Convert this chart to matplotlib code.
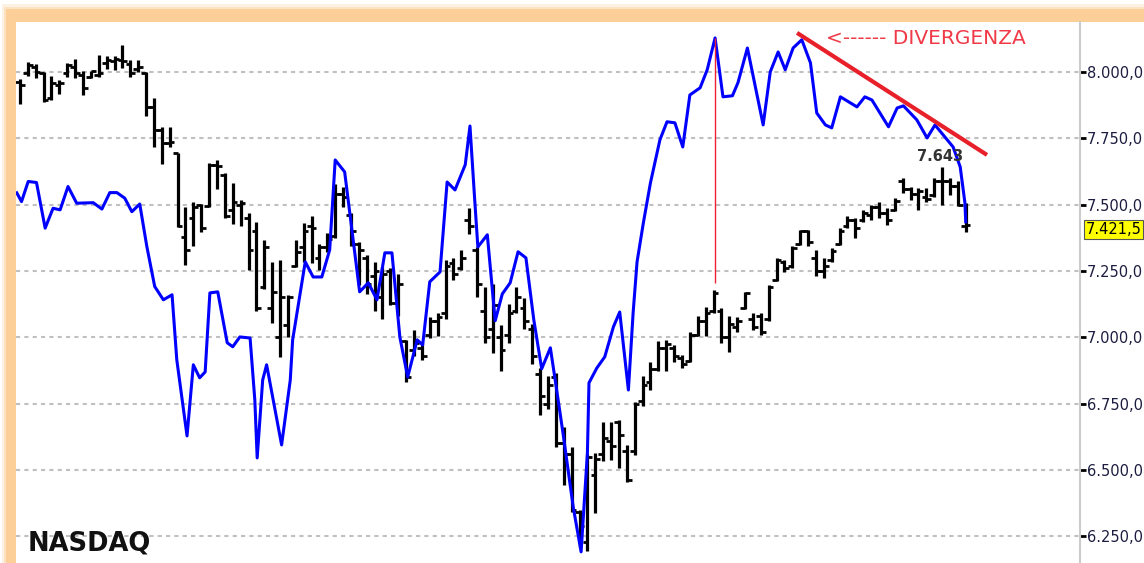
import numpy as np
import matplotlib
matplotlib.use("Agg")
import matplotlib.pyplot as plt
from matplotlib.patches import Rectangle
from matplotlib.ticker import FuncFormatter

# NASDAQ giornaliero: massimo, minimo, apertura, chiusura
highs = [7974, 8036, 8030, 7998, 7985, 7968, 8035, 8050, 8005, 8005,
         8065, 8060, 8058, 8102, 8045, 8045, 7999, 7900, 7794, 7794,
         7693, 7492, 7511, 7502, 7656, 7668, 7618, 7580, 7517, 7467,
         7436, 7365, 7282, 7291, 7160, 7365, 7432, 7458, 7350, 7392,
         7578, 7565, 7470, 7357, 7310, 7282, 7266, 7262, 7240, 6990,
         7028, 6980, 7078, 7090, 7291, 7300, 7329, 7486, 7340, 7191,
         7200, 7045, 7125, 7191, 7147, 7050, 6885, 6855, 6864, 6663,
         6585, 6349, 6560, 6563, 6680, 6682, 6688, 6594, 6757, 6855,
         6905, 6984, 6990, 6971, 6933, 7021, 7080, 7112, 7178, 7109,
         7080, 7078, 7172, 7090, 7090, 7197, 7298, 7291, 7342, 7404,
         7404, 7329, 7298, 7335, 7411, 7455, 7448, 7480, 7499, 7511,
         7486, 7524, 7599, 7568, 7561, 7561, 7599, 7643, 7599, 7587,
         7505]
lows = [7879, 7985, 7976, 7888, 7895, 7915, 7982, 7976, 7912, 7976,
        7982, 8012, 8008, 8014, 7982, 8001, 7832, 7715, 7652, 7715,
        7417, 7273, 7345, 7395, 7492, 7560, 7450, 7425, 7420, 7254,
        7097, 7180, 7053, 6925, 7000, 7266, 7285, 7280, 7254, 7320,
        7373, 7492, 7345, 7197, 7163, 7100, 7068, 7120, 7080, 6830,
        6930, 6914, 6998, 7005, 7068, 7216, 7254, 7390, 7150, 6980,
        6940, 6872, 6977, 7093, 7030, 6900, 6707, 6730, 6585, 6443,
        6340, 6210, 6195, 6337, 6535, 6538, 6506, 6456, 6556, 6740,
        6800, 6871, 6871, 6908, 6883, 6905, 7003, 7003, 7090, 6977,
        6946, 7021, 7105, 7028, 7009, 7062, 7210, 7247, 7260, 7348,
        7345, 7229, 7222, 7285, 7348, 7411, 7373, 7436, 7442, 7448,
        7423, 7474, 7543, 7518, 7480, 7511, 7530, 7499, 7536, 7493,
        7398]
opens = [7960, 7995, 8020, 7995, 7901, 7950, 7995, 8020, 7989, 7982,
         7989, 8033, 8040, 8045, 8030, 8010, 7995, 7869, 7781, 7731,
         7693, 7379, 7450, 7498, 7495, 7650, 7610, 7480, 7500, 7450,
         7400, 7190, 7110, 7000, 7046, 7270, 7340, 7420, 7300, 7340,
         7380, 7540, 7460, 7350, 7300, 7230, 7150, 7250, 7130, 6985,
         6950, 6960, 7010, 7060, 7090, 7280, 7260, 7440, 7330, 7100,
         7030, 7000, 7010, 7100, 7110, 7030, 6860, 6750, 6850, 6600,
         6560, 6340, 6230, 6480, 6560, 6610, 6680, 6570, 6570, 6760,
         6830, 6880, 6960, 6960, 6920, 6910, 7010, 7060, 7100, 7100,
         7000, 7040, 7110, 7070, 7080, 7070, 7215, 7285, 7270, 7350,
         7400, 7300, 7250, 7290, 7350, 7420, 7440, 7440, 7460, 7490,
         7470, 7480, 7590, 7560, 7540, 7530, 7535, 7590, 7590, 7570,
         7420]
closes = [7952, 8026, 8001, 7894, 7957, 7957, 8026, 7995, 7940, 8003,
          7995, 8043, 8050, 8040, 7995, 8020, 7869, 7781, 7731, 7737,
          7420, 7329, 7490, 7410, 7650, 7645, 7455, 7510, 7505, 7330,
          7110, 7340, 7170, 7150, 7153, 7320, 7400, 7410, 7340, 7370,
          7540, 7530, 7400, 7330, 7200, 7250, 7240, 7130, 7200, 6850,
          6980, 6930, 7060, 7075, 7270, 7240, 7300, 7420, 7200, 7000,
          7120, 6950, 7090, 7150, 7060, 6930, 6780, 6820, 6600, 6560,
          6350, 6290, 6550, 6540, 6620, 6590, 6630, 6460, 6750, 6820,
          6880, 6960, 6975, 6930, 6900, 7010, 7060, 7090, 7165, 7000,
          7050, 7060, 7165, 7040, 7020, 7190, 7290, 7260, 7335, 7400,
          7360, 7250, 7270, 7325, 7400, 7440, 7410, 7470, 7490, 7470,
          7440, 7515, 7560, 7540, 7550, 7520, 7590, 7590, 7570, 7500,
          7421.5]

# indicatore (linea blu), posizione in giorni e valore sulla stessa scala
blue_x = [-0.4, 0.2, 1.05, 2.1, 3.2, 4.2, 5.1, 6.1, 7.2, 9.3, 10.4, 11.4, 12.3,
          13.3, 14.2, 15.2, 16.1, 17.1, 18.2, 19.3, 19.9, 21.2, 22.0, 22.8, 23.5,
          24.1, 25.1, 26.3, 27.0, 27.9, 29.2, 29.8, 30.1, 30.8, 31.3, 33.2, 34.3,
          34.6, 36.2, 37.2, 38.3, 39.3, 40.0, 41.2, 43.1, 44.2, 45.3, 46.3, 47.2,
          48.2, 49.2, 50.4, 51.1, 52.0, 53.3, 54.2, 55.2, 56.5, 57.1, 57.7, 58.1,
          59.3, 60.3, 61.2, 62.2, 63.2, 64.2, 65.2, 66.2, 67.3, 68.1, 68.9, 70.2,
          71.2, 72.0, 72.2, 73.2, 74.2, 75.3, 76.1, 77.2, 77.8, 78.3, 79.1, 80.0,
          81.2, 82.1, 83.1, 84.1, 85.0, 86.3, 87.2, 88.2, 89.2, 90.4, 91.1, 92.3,
          94.3, 95.2, 96.2, 97.1, 98.1, 99.2, 100.3, 101.1, 102.2, 103.0, 104.1,
          106.2, 107.2, 108.1, 110.2, 111.3, 112.1, 113.8, 115.1, 116.1, 118.4,
          119.3, 119.9, 120.0]
blue_v = [7544, 7511, 7587, 7583, 7411, 7486, 7480, 7568, 7505, 7507, 7483, 7545, 7545,
          7524, 7473, 7502, 7342, 7191, 7141, 7160, 6915, 6628, 6896, 6847, 6869,
          7167, 7171, 6979, 6964, 7001, 6997, 6764, 6545, 6839, 6896, 6594, 6839,
          6990, 7284, 7227, 7227, 7329, 7668, 7623, 7171, 7205, 7141, 7318, 7318,
          7001, 6850, 6990, 6971, 7209, 7246, 7585, 7555, 7650, 7796, 7518, 7340,
          7386, 7062, 7163, 7205, 7322, 7299, 7065, 6881, 6960, 6801, 6639, 6360,
          6191, 6564, 6828, 6884, 6926, 7039, 7095, 6801, 7092, 7284, 7431, 7582,
          7744, 7812, 7808, 7717, 7913, 7940, 8008, 8128, 7906, 7910, 7959, 8090,
          7800, 8000, 8075, 8008, 8090, 8121, 8034, 7845, 7800, 7789, 7906,
          7868, 7906, 7894, 7793, 7864, 7872, 7819, 7751, 7800, 7717,
          7642, 7506, 7435]

yticks = [6250, 6500, 6750, 7000, 7250, 7500, 7750, 8000]
last_value = 7421.5
max_value = 7643
div_x = 88.2                     # linea verticale di divergenza
div_top, div_bottom = 8128, 7205
trend_x = [98.6, 122.7]          # trendline rossa sui massimi dell'indicatore
trend_v = [8147, 7687]


def fmt_it(v, p=None):
    # formato italiano: punto per le migliaia, virgola per i decimali
    return f"{v:,.1f}".replace(",", "X").replace(".", ",").replace("X", ".")


W, H = 1144, 563
fig = plt.figure(figsize=(W / 100, H / 100), dpi=100)

# cornice arancione (solo in alto e a sinistra), interno bianco
bg = fig.add_axes([0, 0, 1, 1])
bg.set_xlim(0, W)
bg.set_ylim(H, 0)
bg.axis("off")
bg.add_patch(Rectangle((0, 0), W, H, fc="white", ec="none"))
bg.add_patch(Rectangle((2, 4), W, H, fc="#fdf1e4", ec="none"))
bg.add_patch(Rectangle((4, 7), W, H, fc="#fde2c2", ec="none"))
bg.add_patch(Rectangle((6, 9), W, H, fc="#fccf98", ec="none"))
bg.add_patch(Rectangle((16, 22), W, H, fc="white", ec="none"))

ax = fig.add_axes([16 / W, 0, (1080 - 16) / W, (H - 22) / H])
ax.patch.set_alpha(0)
ax.set_xlim(-0.5, 134.5)
ax.set_ylim(6149, 8188)

for s in ["left", "top", "bottom"]:
    ax.spines[s].set_visible(False)
ax.spines["right"].set_color("#cccccc")
ax.spines["right"].set_linewidth(1.5)

ax.yaxis.tick_right()
ax.set_yticks(yticks)
ax.yaxis.set_major_formatter(FuncFormatter(fmt_it))
ax.tick_params(axis="y", direction="out", length=4, width=2, color="black",
               labelsize=10.5, labelcolor="#1c1c40", pad=1)
ax.set_xticks([])
ax.grid(axis="y", color="#c0c0c0", linestyle=(0, (2, 2)), linewidth=1.5, zorder=0)
ax.set_axisbelow(True)

# barre OHLC
x = np.arange(len(highs))
ax.vlines(x, lows, highs, color="black", linewidth=2.3, zorder=3)
ax.hlines(opens, x - 0.6, x, color="black", linewidth=2, zorder=3)
ax.hlines(closes, x, x + 0.6, color="black", linewidth=2, zorder=3)

ax.plot(blue_x, blue_v, color="#0000ff", linewidth=2.2, zorder=4)

ax.vlines(div_x, div_bottom, div_top, color="#ee2233", linewidth=1, zorder=5)
ax.plot(trend_x, trend_v, color="#e8202a", linewidth=3, solid_capstyle="butt", zorder=5)
ax.text(102.3, 8124, "<------ DIVERGENZA", color="#f03a48", fontsize=14.5,
        va="center", ha="left", zorder=6)

ax.text(116.8, 7680, fmt_it(max_value).split(",")[0], fontsize=10.5,
        fontweight="bold", color="#333333", ha="center", va="center", zorder=6)

ax.annotate(fmt_it(last_value), xy=(1, last_value), xycoords=("axes fraction", "data"),
            xytext=(4, -3), textcoords="offset points", va="center", ha="left",
            fontsize=10.5, color="black", annotation_clip=False,
            bbox=dict(boxstyle="square,pad=0.12", fc="#ffff00", ec="#555555", lw=0.8))

fig.text(28 / W, 1 - 543 / H, "NASDAQ", fontsize=18.5, fontweight="bold",
         color="#111111", va="center", ha="left")

fig.savefig("out.png", dpi=100)
